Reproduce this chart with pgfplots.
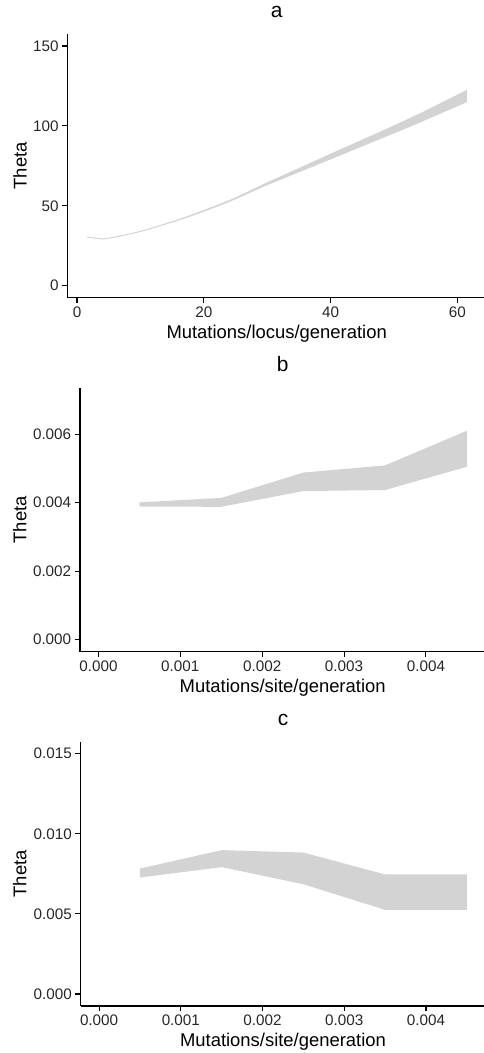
\documentclass[border=0pt]{standalone}
\usepackage{fontspec}
\setmainfont{Liberation Sans}
\usepackage{pgfplots}
\pgfplotsset{compat=1.18}
\usepackage{pgfplotstable}
\definecolor{ribbon}{RGB}{211,211,211}

% theta intervals as closed outlines: upper edge left to right, lower edge back
\pgfplotstableread{
x    y
1.5  30.8
3    30.0
4.2  29.5
6    30.7
8    32.4
10   34.35
12   36.55
15   40.3
17.5 43.65
20   47.3
22.5 51.15
25   55.2
27.5 59.9
30   64.7
32.5 69.1
35   73.6
37.5 78.05
40   82.6
42.5 86.95
45   91.4
47.5 95.8
50   100.3
52.5 104.85
55   109.6
58   115.6
61.5 122.5
61.5 114.8
58   108.8
55   103.6
52.5 99.35
50   95.3
47.5 91.2
45   87.2
42.5 83.05
40   79.0
37.5 74.95
35   71.0
32.5 66.9
30   62.9
27.5 58.5
25   54.0
22.5 50.05
20   46.3
17.5 42.75
15   39.5
12   35.85
10   33.65
8    31.8
6    30.1
4.2  28.9
3    29.4
1.5  30.2
}\dataa
\pgfplotstableread{
x      y
0.0005 0.00401
0.0015 0.00414
0.0025 0.00488
0.0035 0.00509
0.0045 0.00610
0.0045 0.00505
0.0035 0.00437
0.0025 0.00434
0.0015 0.00388
0.0005 0.00389
}\datab
\pgfplotstableread{
x      y
0.0005 0.00783
0.0015 0.00898
0.0025 0.00883
0.0035 0.00746
0.0045 0.00746
0.0045 0.00525
0.0035 0.00525
0.0025 0.00685
0.0015 0.00792
0.0005 0.00727
}\datac

\pgfplotsset{panel/.style={
  scale only axis, anchor=south west,
  axis lines=left, axis line style={-, line width=1.3bp, black},
  tick align=outside, major tick length=5.3bp,
  tick style={line width=1.1bp, black},
  scaled ticks=false, /pgf/number format/assume math mode=true,
  tick label style={font=\fontsize{15.3}{18}\selectfont, text=black!85},
  label style={font=\fontsize{18.5}{22}\selectfont},
  title style={font=\fontsize{21}{25}\selectfont, at={(axis description cs:0.5,1)}, anchor=base, yshift=10.5bp},
  xlabel style={at={(axis description cs:0.5,0)}, anchor=base, yshift=-40.7bp},
  ylabel={Theta},
}}

\begin{document}
\begin{tikzpicture}
\path[use as bounding box] (0,0) rectangle (484bp,1053bp);

\begin{axis}[panel, at={(67.5bp,755.3bp)}, width=418.3bp, height=263.7bp,
  title={a}, xlabel={Mutations/locus/generation},
  ylabel style={at={(axis description cs:-0.098,0.5)}, anchor=base},
  xmin=-1.5, xmax=64.5, ymin=-7.5, ymax=157.5,
  xtick={0,20,40,60}, ytick={0,50,100,150}]
  \addplot[fill=ribbon, draw=none] table[x=x, y=y] {\dataa} -- cycle;
\end{axis}

\begin{axis}[panel, at={(80bp,401.3bp)}, width=405.3bp, height=263.7bp,
  title={b}, xlabel={Mutations/site/generation},
  ylabel style={at={(axis description cs:-0.132,0.5)}, anchor=base},
  xmin=-0.000225, xmax=0.004725, ymin=-0.00035, ymax=0.00735,
  xtick={0,0.001,0.002,0.003,0.004}, xticklabels={0.000,0.001,0.002,0.003,0.004},
  ytick={0,0.002,0.004,0.006}, yticklabels={0.000,0.002,0.004,0.006}]
  \addplot[fill=ribbon, draw=none] table[x=x, y=y] {\datab} -- cycle;
\end{axis}

\begin{axis}[panel, at={(80.7bp,47bp)}, width=404.6bp, height=264.3bp,
  title={c}, xlabel={Mutations/site/generation},
  ylabel style={at={(axis description cs:-0.134,0.5)}, anchor=base},
  xmin=-0.000225, xmax=0.004725, ymin=-0.00075, ymax=0.01575,
  xtick={0,0.001,0.002,0.003,0.004}, xticklabels={0.000,0.001,0.002,0.003,0.004},
  ytick={0,0.005,0.01,0.015}, yticklabels={0.000,0.005,0.010,0.015}]
  \addplot[fill=ribbon, draw=none] table[x=x, y=y] {\datac} -- cycle;
\end{axis}
\end{tikzpicture}
\end{document}
